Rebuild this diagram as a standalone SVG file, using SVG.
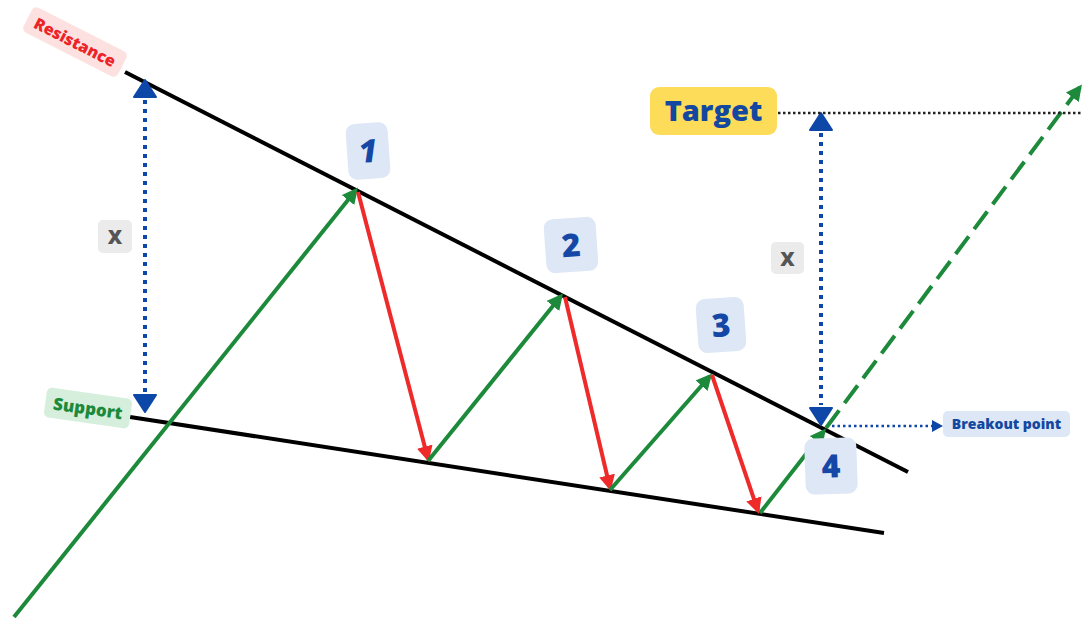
<svg xmlns="http://www.w3.org/2000/svg" width="1083" height="619" viewBox="0 0 1083 619">
<style>
.lbl{font-family:"Open Sans",Lato,sans-serif;font-weight:800;text-anchor:middle;dominant-baseline:central}
.num{fill:#dde7f5}
.numt{fill:#1447a6;font-size:32px}
.g{stroke:#1c8a3a;stroke-width:4;fill:none}
.r{stroke:#ee2a2a;stroke-width:4;fill:none}
.b{stroke:#0d47a8;stroke-width:4;fill:none;stroke-dasharray:4 5}
.k{stroke:#000;stroke-width:4;fill:none}
</style>
<defs>
<marker id="ag" viewBox="0 0 10 10" refX="8" refY="5" markerWidth="4" markerHeight="4" orient="auto" markerUnits="strokeWidth"><path d="M0,0 L10,5 L0,10 z" fill="#1c8a3a"/></marker>
<marker id="ar" viewBox="0 0 10 10" refX="8" refY="5" markerWidth="4" markerHeight="4" orient="auto" markerUnits="strokeWidth"><path d="M0,0 L10,5 L0,10 z" fill="#ee2a2a"/></marker>
</defs>
<rect width="1083" height="619" fill="#fff"/>
<g id="connectors">
<line class="k" x1="125" y1="72" x2="908" y2="472"/>
<line class="k" x1="130" y1="417" x2="884" y2="533"/>
<line class="g" x1="14" y1="617" x2="356" y2="190" marker-end="url(#ag)"/>
<line class="r" x1="358" y1="192" x2="428" y2="459" marker-end="url(#ar)"/>
<line class="g" x1="428" y1="461" x2="561" y2="296" marker-end="url(#ag)"/>
<line class="r" x1="565" y1="297" x2="610" y2="488" marker-end="url(#ar)"/>
<line class="g" x1="610" y1="490" x2="710" y2="376" marker-end="url(#ag)"/>
<line class="r" x1="712" y1="375" x2="758" y2="511" marker-end="url(#ar)"/>
<line class="g" x1="760" y1="513" x2="824" y2="431" marker-end="url(#ag)"/>
<line class="g" x1="826" y1="428" x2="1080" y2="87" stroke-dasharray="22 9" marker-end="url(#ag)"/>
<line class="b" x1="145" y1="100" x2="145" y2="392"/>
<path d="M134,97 L145,80 L156,97 z M134,395 L145,412 L156,395 z" fill="#0d47a8" stroke="#0d47a8" stroke-width="2" stroke-linejoin="round"/>
<line class="b" x1="821" y1="133" x2="821" y2="405"/>
<path d="M810,130 L821,113 L832,130 z M810,408 L821,425 L832,408 z" fill="#0d47a8" stroke="#0d47a8" stroke-width="2" stroke-linejoin="round"/>
<line x1="778" y1="113" x2="1083" y2="113" stroke="#222" stroke-width="2.5" stroke-dasharray="2.5 2.5"/>
<line x1="832" y1="426" x2="933" y2="426" stroke="#0d47a8" stroke-width="2.5" stroke-dasharray="2.5 3"/>
<path d="M932,420 L943,426 L932,432 z" fill="#0d47a8"/>
</g>
<g id="resistance" transform="translate(75,42) rotate(27)">
<rect x="-53" y="-14" width="106" height="28" rx="5" fill="#fde1e1"/>
<text class="lbl" fill="#ec2328" font-size="16">Resistance</text>
</g>
<g id="support" transform="translate(88,408) rotate(8)">
<rect x="-43" y="-15" width="86" height="30" rx="5" fill="#d6efdd"/>
<text class="lbl" fill="#1c8a3a" font-size="17">Support</text>
</g>
<g id="x-left">
<rect x="98" y="220" width="34" height="33" rx="5" fill="#ebebeb"/>
<text class="lbl" x="115" y="236.5" fill="#555" font-size="20">X</text>
</g>
<g id="x-right">
<rect x="771" y="242" width="33" height="32" rx="5" fill="#ebebeb"/>
<text class="lbl" x="787.5" y="258" fill="#555" font-size="20">X</text>
</g>
<g id="target">
<rect x="650" y="87" width="127" height="48" rx="9" fill="#fddc5a"/>
<text class="lbl" x="713.5" y="109" fill="#14479f" font-size="29">Target</text>
</g>
<g id="n1" transform="translate(368,151) rotate(-4)">
<rect class="num" x="-21" y="-28" width="42" height="56" rx="9"/>
<text class="lbl numt" y="-1" font-style="italic">1</text>
</g>
<g id="n2" transform="translate(571,245) rotate(-4)">
<rect class="num" x="-26" y="-27" width="52" height="54" rx="9"/>
<text class="lbl numt" y="-1">2</text>
</g>
<g id="n3" transform="translate(721,325) rotate(-4)">
<rect class="num" x="-24" y="-27" width="48" height="54" rx="9"/>
<text class="lbl numt" y="-1">3</text>
</g>
<g id="n4" transform="translate(831,466) rotate(-2)">
<rect class="num" x="-26" y="-28" width="52" height="56" rx="9"/>
<text class="lbl numt" y="-1">4</text>
</g>
<g id="breakout">
<rect x="943" y="411" width="127" height="26" rx="5" fill="#dde7f5"/>
<text class="lbl" x="1006.5" y="423.5" fill="#14479f" font-size="14">Breakout point</text>
</g>
</svg>
